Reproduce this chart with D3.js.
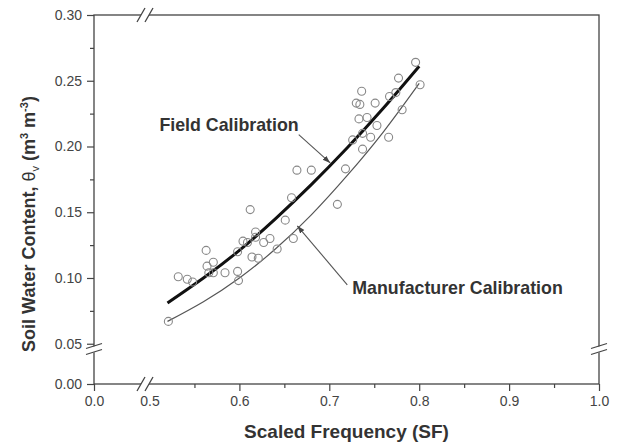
<!DOCTYPE html>
<html>
<head>
<meta charset="utf-8">
<script src="https://cdn.jsdelivr.net/npm/d3@7"></script>
<style>
  body { margin: 0; background: #fff; }
  text { font-family: "Liberation Sans", Arial, sans-serif; }
</style>
</head>
<body>
<div id="root"></div>
<script>
// measured points (scaled frequency, soil water content)
const pointSF = [0.521, 0.532, 0.542, 0.548, 0.563, 0.564, 0.571, 0.566, 0.571, 0.584,
  0.598, 0.599, 0.598, 0.604, 0.609, 0.618, 0.618, 0.627, 0.634, 0.614,
  0.621, 0.642, 0.612, 0.660, 0.651, 0.658, 0.664, 0.680, 0.709, 0.718,
  0.726, 0.737, 0.746, 0.753, 0.766, 0.737, 0.733, 0.742, 0.736, 0.730,
  0.734, 0.751, 0.767, 0.774, 0.781, 0.777, 0.796, 0.801];
const pointSWC = [0.067, 0.101, 0.099, 0.097, 0.121, 0.109, 0.112, 0.104, 0.104, 0.104,
  0.105, 0.098, 0.120, 0.128, 0.127, 0.135, 0.131, 0.127, 0.130, 0.116,
  0.115, 0.122, 0.152, 0.130, 0.144, 0.161, 0.182, 0.182, 0.156, 0.183,
  0.205, 0.210, 0.207, 0.216, 0.207, 0.198, 0.221, 0.222, 0.242, 0.233,
  0.232, 0.233, 0.238, 0.241, 0.228, 0.252, 0.264, 0.247];

// calibration curves
const curveSF = [0.52, 0.56, 0.60, 0.64, 0.68, 0.72, 0.76, 0.80];
const fieldSWC = [0.081, 0.100, 0.121, 0.145, 0.171, 0.199, 0.229, 0.261];
const manufSWC = [0.067, 0.082, 0.100, 0.122, 0.148, 0.178, 0.211, 0.248];

// axes
const xMajor = [0.0, 0.5, 0.6, 0.7, 0.8, 0.9, 1.0];
const xMinor = [0.55, 0.65, 0.75, 0.85, 0.95];
const yMajor = [0.00, 0.05, 0.10, 0.15, 0.20, 0.25, 0.30];
const yMinor = [0.075, 0.125, 0.175, 0.225, 0.275];
const xBreak = 0.495, yBreak = 0.046;

const width = 621, height = 443;
const margin = { left: 94, right: 599, top: 15, bottom: 384 };
const ink = "#444";

const svg = d3.select("#root").append("svg")
  .attr("width", width).attr("height", height)
  .attr("viewBox", [0, 0, width, height]);

// broken scales: short stub before the break, full range after it
const x = d3.scaleLinear().domain([0, xBreak, 1.0]).range([margin.left, 145, margin.right]);
const y = d3.scaleLinear().domain([0, yBreak, 0.30]).range([margin.bottom, 349, margin.top]);

// frame
svg.append("rect")
  .attr("x", margin.left).attr("y", margin.top)
  .attr("width", margin.right - margin.left).attr("height", margin.bottom - margin.top)
  .attr("fill", "none").attr("stroke", ink).attr("stroke-width", 1.3);

function styleAxis(g) {
  g.select(".domain").remove();
  g.selectAll(".tick line").attr("stroke", ink).attr("stroke-width", 1.2);
  g.selectAll(".tick text").attr("fill", "#444").style("font-size", "14px");
}

const xAxis = svg.append("g").attr("transform", `translate(0,${margin.bottom})`)
  .call(d3.axisBottom(x).tickValues(xMajor).tickSize(7).tickPadding(5).tickFormat(d3.format(".1f")))
  .call(styleAxis);
xAxis.selectAll(".tick").filter(d => d === 0.5).select("line").remove();

svg.append("g").attr("transform", `translate(0,${margin.bottom})`)
  .call(d3.axisBottom(x).tickValues(xMinor).tickSize(4).tickFormat(""))
  .call(styleAxis);

svg.append("g").attr("transform", `translate(${margin.left},0)`)
  .call(d3.axisLeft(y).tickValues(yMajor).tickSize(7).tickPadding(5).tickFormat(d3.format(".2f")))
  .call(styleAxis);

svg.append("g").attr("transform", `translate(${margin.left},0)`)
  .call(d3.axisLeft(y).tickValues(yMinor).tickSize(4).tickFormat(""))
  .call(styleAxis);

// axis break marks
function hBreak(cx, cy) {
  const g = svg.append("g");
  g.append("polygon")
    .attr("points", [[cx - 8, cy + 7], [cx, cy - 7], [cx + 8, cy - 7], [cx, cy + 7]].join(" "))
    .attr("fill", "#fff");
  [-4, 4].forEach(d => g.append("line")
    .attr("x1", cx + d - 4).attr("y1", cy + 7)
    .attr("x2", cx + d + 4).attr("y2", cy - 7)
    .attr("stroke", ink).attr("stroke-width", 1.3));
}
function vBreak(cx, cy) {
  const g = svg.append("g");
  g.append("polygon")
    .attr("points", [[cx - 8, cy], [cx + 8, cy - 5], [cx + 8, cy + 1], [cx - 8, cy + 6]].join(" "))
    .attr("fill", "#fff");
  [-3, 3].forEach(d => g.append("line")
    .attr("x1", cx - 8).attr("y1", cy + d + 2.5)
    .attr("x2", cx + 8).attr("y2", cy + d - 2.5)
    .attr("stroke", ink).attr("stroke-width", 1.3));
}
hBreak(x(xBreak), margin.bottom);
hBreak(x(xBreak), margin.top);
vBreak(margin.left, y(yBreak));
vBreak(margin.right, y(yBreak));

// curves
const line = d3.line().x(d => x(d[0])).y(d => y(d[1])).curve(d3.curveNatural);

svg.append("path")
  .datum(curveSF.map((d, i) => [d, manufSWC[i]]))
  .attr("d", line).attr("fill", "none")
  .attr("stroke", "#555").attr("stroke-width", 1.2);

svg.append("path")
  .datum(curveSF.map((d, i) => [d, fieldSWC[i]]))
  .attr("d", line).attr("fill", "none")
  .attr("stroke", "#111").attr("stroke-width", 3);

// measured points
svg.append("g").selectAll("circle")
  .data(pointSF.map((d, i) => [d, pointSWC[i]]))
  .join("circle")
  .attr("cx", d => x(d[0])).attr("cy", d => y(d[1]))
  .attr("r", 4)
  .attr("fill", "none").attr("stroke", "#888").attr("stroke-width", 1.1);

// annotations
svg.append("defs").append("marker")
  .attr("id", "arrow").attr("viewBox", "0 0 10 10")
  .attr("refX", 10).attr("refY", 5)
  .attr("markerWidth", 7).attr("markerHeight", 7)
  .attr("orient", "auto")
  .append("path").attr("d", "M0,1.5L10,5L0,8.5Z").attr("fill", "#444");

function annotate(label, tx, ty, from, to) {
  svg.append("line")
    .attr("x1", x(from[0])).attr("y1", y(from[1]))
    .attr("x2", x(to[0])).attr("y2", y(to[1]))
    .attr("stroke", "#555").attr("stroke-width", 1.1)
    .attr("marker-end", "url(#arrow)");
  svg.append("text")
    .attr("x", x(tx)).attr("y", y(ty))
    .attr("fill", "#333")
    .style("font-size", "17.8px").style("font-weight", "bold")
    .text(label);
}
annotate("Field Calibration", 0.511, 0.212, [0.666, 0.209], [0.701, 0.1875]);
annotate("Manufacturer Calibration", 0.7256, 0.088, [0.720, 0.0948], [0.6644, 0.1397]);

// axis titles
svg.append("text")
  .attr("x", (margin.left + margin.right) / 2).attr("y", 438)
  .attr("text-anchor", "middle").attr("fill", "#333")
  .style("font-size", "19px").style("font-weight", "bold")
  .text("Scaled Frequency (SF)");

const yt = svg.append("text")
  .attr("transform", "translate(35,224) rotate(-90)")
  .attr("text-anchor", "middle").attr("fill", "#333")
  .style("font-size", "18px").style("font-weight", "bold");
yt.append("tspan").text("Soil Water Content, ");
yt.append("tspan").style("font-weight", "normal").text("θ");
yt.append("tspan").attr("dy", 4).style("font-size", "11px").style("font-weight", "normal").text("v");
yt.append("tspan").attr("dy", -4).text(" (m");
yt.append("tspan").attr("dy", -7).style("font-size", "11px").text("3");
yt.append("tspan").attr("dy", 7).text(" m");
yt.append("tspan").attr("dy", -7).style("font-size", "11px").text("-3");
yt.append("tspan").attr("dy", 7).text(")");
</script>
</body>
</html>
